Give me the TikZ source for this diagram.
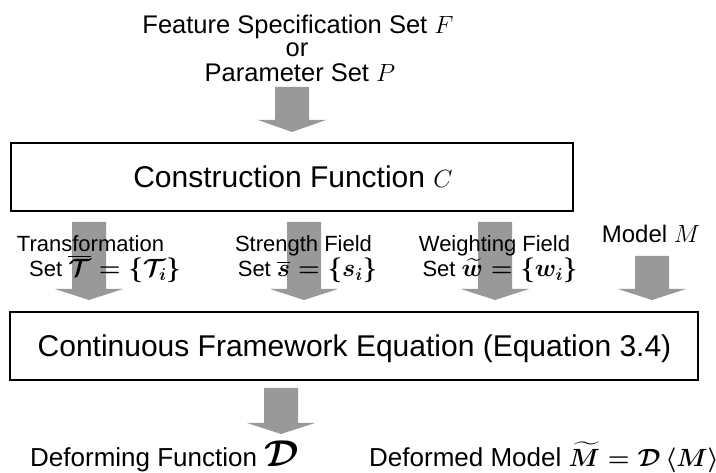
\documentclass[tikz,border=0pt]{standalone}
\usepackage{amsmath}
\usepackage{bm}
\usepackage[no-math]{fontspec}
\setmainfont{Liberation Sans}
\definecolor{arrowgray}{HTML}{999999}
\newcommand\barrow[4]{\fill[arrowgray] ({#1-17},#2) -- ({#1+17},#2) -- ({#1+17},#3) -- ({#1+34},#3) -- (#1,#4) -- ({#1-34},#3) -- ({#1-17},#3) -- cycle;}
\newcommand\mfs[1]{\fontsize{#1}{#1}\selectfont}
\tikzset{
  boxtext/.style={font=\fontsize{30}{32}\selectfont, inner sep=0pt},
  toptext/.style={font=\fontsize{25.5}{27}\selectfont, inner sep=0pt},
  lab/.style={font=\fontsize{22}{24}\selectfont, inner sep=0pt},
  bottext/.style={font=\fontsize{26}{28}\selectfont, inner sep=0pt},
  frame/.style={draw=black, line width=1.6pt},
}
\begin{document}
\begin{tikzpicture}[x=1pt,y=-1pt]
\useasboundingbox (0,0) rectangle (716,473);
% block arrows
\barrow{292}{87}{120}{132}
\barrow{89}{222}{289}{300}
\barrow{304}{222}{289}{300}
\barrow{495}{222}{289}{300}
\barrow{652}{256}{289}{300}
\barrow{281}{388}{423}{434}
% top texts
\node[toptext, anchor=base] (f1) at (298,34) {Feature Specification Set {\mfs{28}$F$}};
\node[toptext, anchor=base] (f2) at (297,57) {or};
\node[toptext, anchor=base] (f3) at (300,82) {Parameter Set {\mfs{28}$P$}};
% boxes
\draw[frame] (11,143) rectangle (573,211);
\node[boxtext, anchor=base] (cf) at (293,188) {Construction Function {\mfs{32}$C$}};
\draw[frame] (10,312) rectangle (698,380);
\node[boxtext, anchor=base] (cfe) at (354.5,357) {Continuous Framework Equation (Equation 3.4)};
% labels
\node[lab, anchor=base] (t1) at (90.5,252) {Transformation};
\node[lab, anchor=base] (t2) at (105,277) {Set {\mfs{27}\boldmath $\overline{\mathcal{T}} = \{\mathcal{T}_i\}$}};
\node[lab, anchor=base] (s1) at (303.5,252) {Strength Field};
\node[lab, anchor=base] (s2) at (307.5,277) {Set {\mfs{27}\boldmath $\overline{s} = \{s_i\}$}};
\node[lab, anchor=base] (w1) at (494.5,252) {Weighting Field};
\node[lab, anchor=base] (w2) at (500,277) {Set {\mfs{27}\boldmath $\widetilde{w} = \{w_i\}$}};
\node[lab, font=\fontsize{24}{26}\selectfont, anchor=base] (m1) at (651,243) {Model {\mfs{27}$M$}};
% bottom texts
\node[bottext, anchor=base west] (d1) at (30,467) {Deforming Function \scalebox{1.5}{\mfs{25}$\bm{\mathcal{D}}$}};
\node[bottext, anchor=base east] (d2) at (719,467) {Deformed Model {\mfs{31}\boldmath $\widetilde{M} = \mathcal{D}\left<M\right>$}};
\end{tikzpicture}
\end{document}
